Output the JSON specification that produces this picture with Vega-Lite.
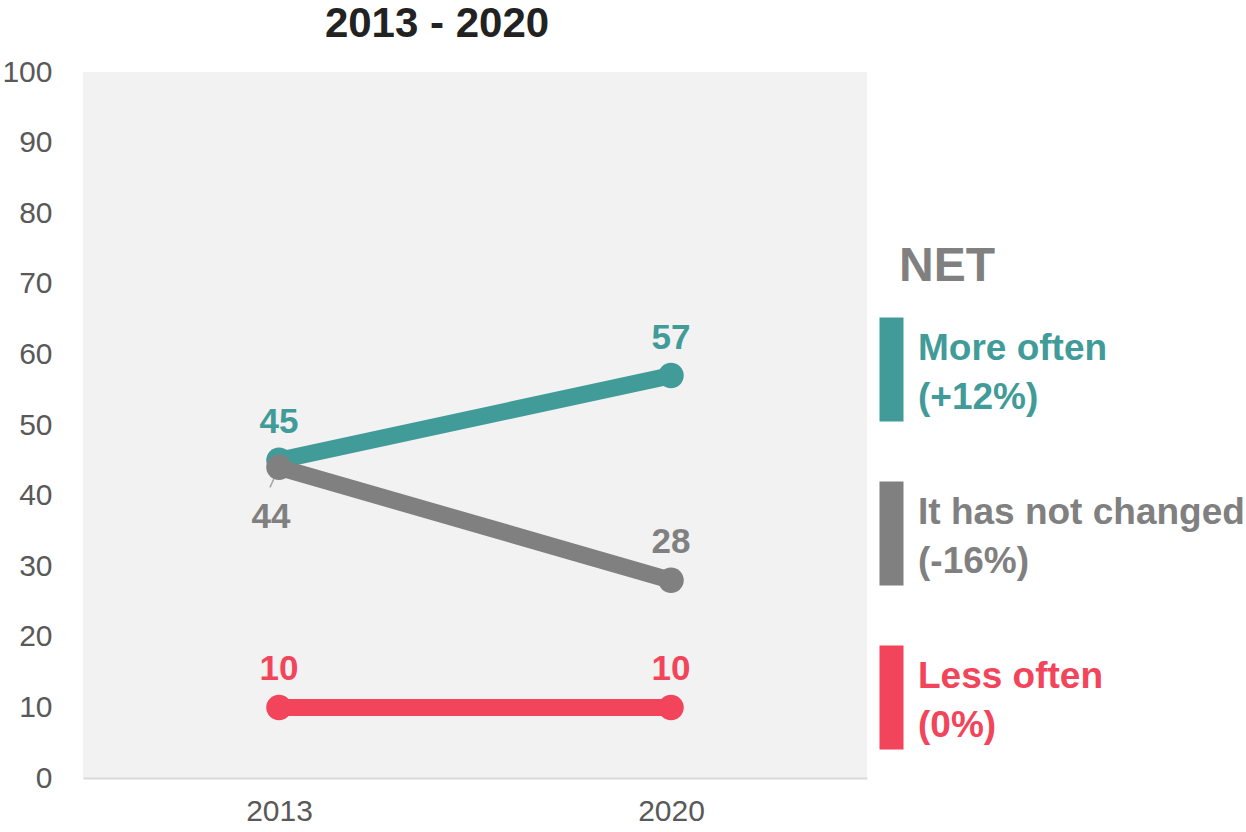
{
  "$schema": "https://vega.github.io/schema/vega-lite/v6.json",
  "width": 784,
  "height": 706,
  "padding": {"left": 1, "top": 3, "right": 0, "bottom": 0},
  "background": "white",
  "title": {
    "text": "2013 - 2020",
    "fontSize": 42,
    "fontWeight": "bold",
    "color": "#222222",
    "font": "Liberation Sans",
    "anchor": "middle",
    "dx": -38,
    "offset": 11
  },
  "data": {
    "values": [
      {"year": "2013", "series": "More often", "value": 45},
      {"year": "2020", "series": "More often", "value": 57},
      {"year": "2013", "series": "It has not changed", "value": 44},
      {"year": "2020", "series": "It has not changed", "value": 28},
      {"year": "2013", "series": "Less often", "value": 10},
      {"year": "2020", "series": "Less often", "value": 10}
    ]
  },
  "encoding": {
    "x": {
      "field": "year",
      "type": "ordinal",
      "scale": {"type": "point", "padding": 0.5},
      "axis": {
        "title": null,
        "labelAngle": 0,
        "labelFontSize": 30,
        "labelColor": "#595959",
        "labelPadding": 18,
        "ticks": false,
        "domain": true,
        "domainColor": "#d9d9d9",
        "domainWidth": 2,
        "grid": false
      }
    },
    "y": {
      "field": "value",
      "type": "quantitative",
      "scale": {"domain": [0, 100], "nice": false},
      "axis": {
        "title": null,
        "values": [0, 10, 20, 30, 40, 50, 60, 70, 80, 90, 100],
        "labelFontSize": 30,
        "labelColor": "#595959",
        "labelPadding": 31,
        "ticks": false,
        "domain": false,
        "grid": false
      }
    },
    "color": {
      "field": "series",
      "type": "nominal",
      "scale": {
        "domain": ["More often", "It has not changed", "Less often"],
        "range": ["#419b99", "#808080", "#f2445a"]
      },
      "legend": {
        "orient": "none",
        "legendX": 790,
        "legendY": 171,
        "padding": 0,
        "title": "NET",
        "titleFontSize": 48,
        "titleFontWeight": "bold",
        "titleColor": "#808080",
        "titlePadding": 60,
        "titleAnchor": "start",
        "symbolType": "M-1,-4.333H1V4.333H-1Z",
        "symbolSize": 576,
        "symbolStrokeWidth": 0,
        "symbolOpacity": 1,
        "labelFontSize": 37,
        "labelFontWeight": "bold",
        "labelLimit": 600,
        "labelOffset": 8,
        "labelBaseline": "middle",
        "rowPadding": 59,
        "labelExpr": "datum.label == 'More often' ? ['More often', '(+12%)'] : datum.label == 'It has not changed' ? ['It has not changed', '(-16%)'] : ['Less often', '(0%)']",
        "encode": {
          "title": {"update": {"dx": {"value": 26}}},
          "symbols": {"update": {"fill": {"scale": "color", "field": "value"}, "stroke": {"value": "transparent"}, "opacity": {"value": 1}}},
          "labels": {"update": {"fill": {"scale": "color", "field": "value"}, "lineHeight": {"value": 49}, "dy": {"value": -21}}}
        }
      }
    }
  },
  "layer": [
    {
      "mark": {"type": "line", "strokeWidth": 17, "strokeCap": "butt"}
    },
    {
      "transform": [{"filter": "datum.series == 'It has not changed' && datum.year == '2013'"}],
      "mark": {"type": "rule", "color": "#a6a6a6", "strokeWidth": 1.5, "x2Offset": -9, "y2Offset": 20},
      "encoding": {
        "x2": {"field": "year"},
        "y2": {"field": "value"},
        "color": {"value": "#a6a6a6"}
      }
    },
    {
      "mark": {"type": "point", "filled": true, "size": 650, "opacity": 1, "shape": "circle"}
    },
    {
      "transform": [{"filter": "!(datum.series == 'It has not changed' && datum.year == '2013')"}],
      "mark": {"type": "text", "fontSize": 35, "fontWeight": "bold", "dy": -27, "baseline": "alphabetic", "align": "center"},
      "encoding": {"text": {"field": "value", "type": "quantitative"}}
    },
    {
      "transform": [{"filter": "datum.series == 'It has not changed' && datum.year == '2013'"}],
      "mark": {"type": "text", "fontSize": 35, "fontWeight": "bold", "dy": 61, "dx": -8, "baseline": "alphabetic", "align": "center"},
      "encoding": {"text": {"field": "value", "type": "quantitative"}}
    }
  ],
  "config": {
    "font": "Liberation Sans",
    "view": {"fill": "#f2f2f2", "stroke": null}
  }
}
